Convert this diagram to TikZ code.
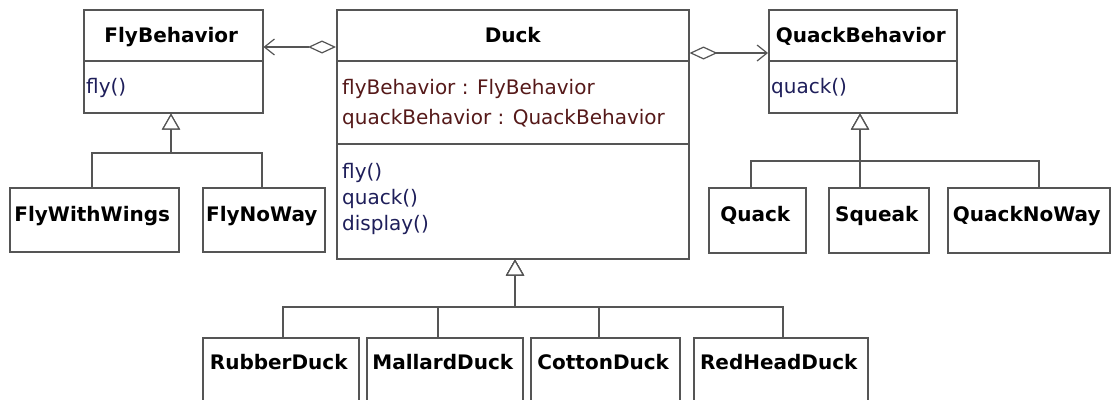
\documentclass[tikz,border=0pt]{standalone}
\usepackage{fontspec}
\setmainfont{DejaVu Sans}
\usetikzlibrary{arrows.meta}
\definecolor{linegray}{RGB}{85,85,85}
\definecolor{attrc}{RGB}{85,25,25}
\definecolor{methc}{RGB}{30,30,90}
\tikzset{
  cls/.style={draw=linegray, line width=1.5pt, fill=white, rectangle, anchor=north west, inner sep=0pt},
  title/.style={font=\fontsize{20}{24}\selectfont\bfseries, anchor=base, inner sep=0pt},
  attr/.style={font=\fontsize{20}{24}\selectfont, text=attrc, anchor=base west, inner sep=0pt},
  meth/.style={font=\fontsize{20}{24}\selectfont, text=methc, anchor=base west, inner sep=0pt},
  divider/.style={draw=linegray, line width=1.5pt},
  assoc/.style={draw=linegray, line width=1.2pt, {Diamond[fill=white,length=28pt,width=13pt]}-{Straight Barb[length=10pt,width=16pt]}},
  gen/.style={draw=linegray, line width=1.2pt, -{Triangle[fill=white,length=16pt,width=18pt]}}
}
\begin{document}
\begin{tikzpicture}[x=1pt,y=-1pt]
\useasboundingbox[fill=white] (0,0) rectangle (1111,399);
\clip (0,0) rectangle (1111,399);

% boxes
\node[cls, minimum width=179pt, minimum height=103pt] (fb) at (83,9) {};
\node[cls, minimum width=352pt, minimum height=249pt] (duck) at (336,9) {};
\node[cls, minimum width=188pt, minimum height=103pt] (qb) at (768,9) {};
\node[cls, minimum width=169pt, minimum height=64pt] (fww) at (9,187) {};
\node[cls, minimum width=122pt, minimum height=64pt] (fnw) at (202,187) {};
\node[cls, minimum width=97pt, minimum height=65pt] (quack) at (708,187) {};
\node[cls, minimum width=100pt, minimum height=65pt] (squeak) at (828,187) {};
\node[cls, minimum width=162pt, minimum height=65pt] (qnw) at (947,187) {};
\node[cls, minimum width=156pt, minimum height=80pt] (rubber) at (202,337) {};
\node[cls, minimum width=156pt, minimum height=80pt] (mallard) at (366,337) {};
\node[cls, minimum width=149pt, minimum height=80pt] (cotton) at (530,337) {};
\node[cls, minimum width=174pt, minimum height=80pt] (redhead) at (693,337) {};

% dividers
\draw[divider] (fb.west |- 0,61) -- (fb.east |- 0,61);
\draw[divider] (duck.west |- 0,61) -- (duck.east |- 0,61);
\draw[divider] (duck.west |- 0,144) -- (duck.east |- 0,144);
\draw[divider] (qb.west |- 0,61) -- (qb.east |- 0,61);

% titles
\node[title] (fbt) at ([xshift=-2pt,yshift=-33pt]fb.north) {FlyBehavior};
\node[title] (duckt) at ([yshift=-33pt]duck.north) {Duck};
\node[title] (qbt) at ([xshift=-2pt,yshift=-33pt]qb.north) {QuackBehavior};
\node[title] (fwwt) at ([xshift=-2pt,yshift=-34pt]fww.north) {FlyWithWings};
\node[title] (fnwt) at ([xshift=-2pt,yshift=-34pt]fnw.north) {FlyNoWay};
\node[title] (quackt) at ([xshift=-2pt,yshift=-34pt]quack.north) {Quack};
\node[title] (squeakt) at ([xshift=-2pt,yshift=-34pt]squeak.north) {Squeak};
\node[title] (qnwt) at ([xshift=-2pt,yshift=-34pt]qnw.north) {QuackNoWay};
\node[title] (rubbert) at ([xshift=-2pt,yshift=-32pt]rubber.north) {RubberDuck};
\node[title] (mallardt) at ([xshift=-2pt,yshift=-32pt]mallard.north) {MallardDuck};
\node[title] (cottont) at ([xshift=-2pt,yshift=-32pt]cotton.north) {CottonDuck};
\node[title] (redheadt) at ([xshift=-2pt,yshift=-32pt]redhead.north) {RedHeadDuck};

% members
\node[meth] (fbfly) at (86,93) {fly()};
\node[attr] (a1) at (342,94) {flyBehavior : FlyBehavior};
\node[attr] (a2) at (342,124) {quackBehavior : QuackBehavior};
\node[meth] (m1) at (342,178) {fly()};
\node[meth] (m2) at (342,204) {quack()};
\node[meth] (m3) at (342,230) {display()};
\node[meth] (qbq) at (771,93) {quack()};

% associations
\draw[assoc] (duck.west |- 0,47) -- (fb.east |- 0,47);
\draw[assoc] (duck.east |- 0,53) -- (qb.west |- 0,53);

% generalizations
\draw[gen] (fww.north -| 92,0) -- (92,153) -| (fb.south -| 171,0);
\draw[gen] (fnw.north -| 262,0) -- (262,153) -| (fb.south -| 171,0);
\draw[gen] (quack.north -| 751,0) -- (751,161) -| (qb.south -| 860,0);
\draw[gen] (squeak.north -| 860,0) -- (qb.south -| 860,0);
\draw[gen] (qnw.north -| 1039,0) -- (1039,161) -| (qb.south -| 860,0);
\draw[gen] (rubber.north -| 283,0) -- (283,307) -| (duck.south -| 515,0);
\draw[gen] (mallard.north -| 438,0) -- (438,307) -| (duck.south -| 515,0);
\draw[gen] (cotton.north -| 599,0) -- (599,307) -| (duck.south -| 515,0);
\draw[gen] (redhead.north -| 783,0) -- (783,307) -| (duck.south -| 515,0);
\end{tikzpicture}
\end{document}
